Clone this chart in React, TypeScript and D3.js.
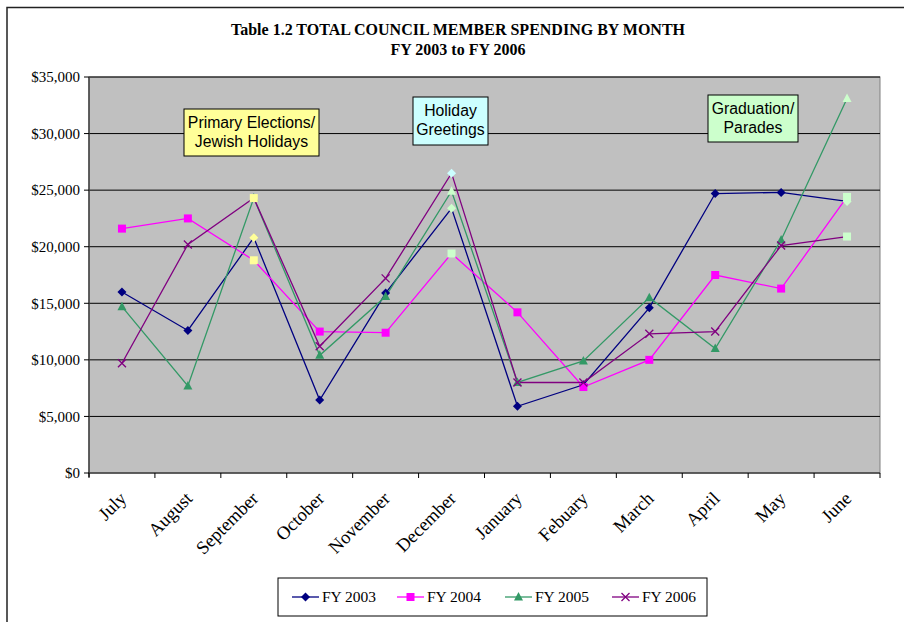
import React from 'react';
import * as d3 from 'd3';

const months = ['July', 'August', 'September', 'October', 'November', 'December', 'January', 'Febuary', 'March', 'April', 'May', 'June'];

const fy2003 = [16.0, 12.6, 20.8, 6.45, 15.9, 23.4, 5.9, 7.8, 14.6, 24.7, 24.8, 24.0];
const fy2004 = [21.6, 22.5, 18.8, 12.5, 12.4, 19.4, 14.2, 7.6, 10.0, 17.5, 16.3, 24.4];
const fy2005 = [14.7, 7.7, 24.3, 10.4, 15.6, 24.9, 8.0, 9.9, 15.5, 11.0, 20.6, 33.1];
const fy2006 = [9.7, 20.2, 24.3, 11.2, 17.2, 26.5, 8.0, 8.0, 12.3, 12.5, 20.1, 20.9];

const yTicks = [0, 5000, 10000, 15000, 20000, 25000, 30000, 35000];

const series = [
  { name: 'FY 2003', values: fy2003, color: '#000080', shape: 'diamond' },
  { name: 'FY 2004', values: fy2004, color: '#FF00FF', shape: 'square' },
  { name: 'FY 2005', values: fy2005, color: '#339966', shape: 'triangle' },
  { name: 'FY 2006', values: fy2006, color: '#800080', shape: 'x' },
];

// markers recoloured to match the annotation boxes
const highlights = [
  { s: 0, m: 2, fill: '#FFFF99' }, { s: 1, m: 2, fill: '#FFFF99' }, { s: 3, m: 2, fill: '#FFFF99', shape: 'square' },
  { s: 0, m: 5, fill: '#CCFFCC' }, { s: 1, m: 5, fill: '#CCFFCC' }, { s: 2, m: 5, fill: '#CCFFCC' }, { s: 3, m: 5, fill: '#CCFFFF', shape: 'diamond' },
  { s: 0, m: 11, fill: '#CCFFCC' }, { s: 1, m: 11, fill: '#CCFFCC' }, { s: 2, m: 11, fill: '#CCFFCC' }, { s: 3, m: 11, fill: '#CCFFCC', shape: 'square' },
];

const notes = [
  { lines: ['Primary Elections/', 'Jewish Holidays'], x: 184, y: 109, w: 135, h: 47, fill: '#FFFF99' },
  { lines: ['Holiday', 'Greetings'], x: 413, y: 97, w: 75, h: 48, fill: '#CCFFFF' },
  { lines: ['Graduation/', 'Parades'], x: 708, y: 95, w: 90, h: 47, fill: '#CCFFCC' },
];

const serif = '"Liberation Serif", "Times New Roman", serif';
const sans = '"Liberation Sans", Arial, sans-serif';

const Marker = ({ shape, x, y, color, fill }: any) => {
  const f = fill || color;
  if (shape === 'diamond') {
    return <path d={`M${x},${y - 4.5}L${x + 4.5},${y}L${x},${y + 4.5}L${x - 4.5},${y}Z`} fill={f} />;
  }
  if (shape === 'square') {
    return <rect x={x - 4} y={y - 4} width={8} height={8} fill={f} />;
  }
  if (shape === 'triangle') {
    return <path d={`M${x},${y - 5}L${x + 4.5},${y + 3.5}L${x - 4.5},${y + 3.5}Z`} fill={f} />;
  }
  return (
    <path d={`M${x - 4},${y - 4}L${x + 4},${y + 4}M${x - 4},${y + 4}L${x + 4},${y - 4}`} stroke={fill || color} strokeWidth={1.3} fill="none" />
  );
};

export default function App() {
  const left = 89, right = 880, top = 77, bottom = 473;
  const x = d3.scaleBand().domain(months).range([left, right]);
  const y = d3.scaleLinear().domain([0, 35000]).range([bottom, top]);
  const cx = (m: string) => (x(m) as number) + x.bandwidth() / 2;
  const line = d3.line<number>().x((_, i) => cx(months[i])).y(d => y(d * 1000));

  const legendItems = [292, 397, 505, 612];

  return (
    <svg width={904} height={622} style={{ position: 'absolute', left: 0, top: 0 }}>
      <rect x={0} y={0} width={904} height={622} fill="#fff" />
      <path d="M7,630V7.5H910" fill="none" stroke="#222" strokeWidth={1.5} />

      <text x={458} y={35} textAnchor="middle" fontFamily={serif} fontWeight="bold" fontSize={16}>
        Table 1.2 TOTAL COUNCIL MEMBER SPENDING BY MONTH
      </text>
      <text x={458} y={55} textAnchor="middle" fontFamily={serif} fontWeight="bold" fontSize={16}>
        FY 2003 to FY 2006
      </text>

      <rect x={left} y={top} width={right - left} height={bottom - top} fill="#C0C0C0" stroke="#808080" strokeWidth={1} />
      {yTicks.filter(t => t > 0).map(t => (
        <line key={t} x1={left} x2={right} y1={y(t)} y2={y(t)} stroke="#000" strokeWidth={1} />
      ))}
      <line x1={left} x2={left} y1={top} y2={bottom + 4} stroke="#404040" strokeWidth={1.5} />
      <line x1={left - 1} x2={right} y1={bottom} y2={bottom} stroke="#404040" strokeWidth={1.5} />
      {yTicks.map(t => (
        <g key={t}>
          <line x1={left - 5} x2={left} y1={y(t)} y2={y(t)} stroke="#000" />
          <text x={left - 9} y={y(t)} dy="0.35em" textAnchor="end" fontFamily={serif} fontSize={15}>
            {d3.format('$,')(t)}
          </text>
        </g>
      ))}
      {months.map(m => (
        <line key={m} x1={x(m) as number} x2={x(m) as number} y1={bottom} y2={bottom + 5} stroke="#000" />
      ))}
      <line x1={right} x2={right} y1={bottom} y2={bottom + 5} stroke="#000" />
      {months.map(m => (
        <text key={m} transform={`translate(${cx(m) + 1},${bottom + 22}) rotate(-45)`} textAnchor="end" dy="0.35em" fontFamily={serif} fontSize={18.5}>
          {m}
        </text>
      ))}

      {series.map(s => (
        <path key={s.name} d={line(s.values) as string} fill="none" stroke={s.color} strokeWidth={1.3} />
      ))}
      {series.map((s, si) =>
        s.values.map((v, mi) => {
          const h = highlights.find(d => d.s === si && d.m === mi) as any;
          return (
            <Marker key={s.name + mi} shape={(h && h.shape) || s.shape} x={cx(months[mi])} y={y(v * 1000)} color={s.color} fill={h && h.fill} />
          );
        })
      )}

      {notes.map(n => (
        <g key={n.lines[0]}>
          <rect x={n.x} y={n.y} width={n.w} height={n.h} fill={n.fill} stroke="#000" strokeWidth={1} />
          {n.lines.map((l, i) => (
            <text key={l} x={n.x + n.w / 2} y={n.y + 19 + i * 19} textAnchor="middle" fontFamily={sans} fontSize={15.8}>
              {l}
            </text>
          ))}
        </g>
      ))}

      <rect x={278} y={578} width={429} height={38} fill="#fff" stroke="#000" strokeWidth={1} />
      {series.map((s, i) => {
        const lx = legendItems[i];
        return (
          <g key={s.name}>
            <line x1={lx} x2={lx + 27} y1={597} y2={597} stroke={s.color} strokeWidth={1.3} />
            <Marker shape={s.shape} x={lx + 13.5} y={597} color={s.color} />
            <text x={lx + 30} y={597} dy="0.35em" fontFamily={serif} fontSize={15.5}>
              {s.name}
            </text>
          </g>
        );
      })}
    </svg>
  );
}
